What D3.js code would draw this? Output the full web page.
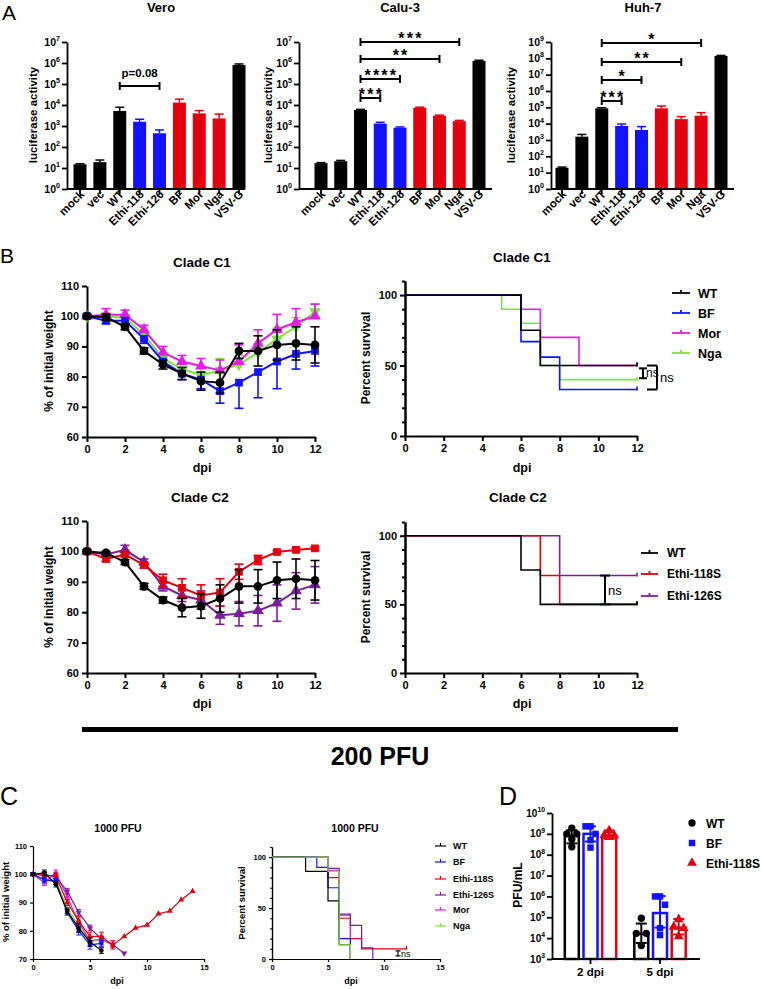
<!DOCTYPE html>
<html>
<head>
<meta charset="utf-8">
<title>Figure</title>
<script src="https://d3js.org/d3.v7.min.js"></script>
<style>
  body { margin: 0; background: #fff; }
  svg { display: block; font-family: "Liberation Sans", Arial, Helvetica, sans-serif; }
  text { fill: #000; }
</style>
</head>
<body>
<svg id="fig" width="762" height="989"></svg>
<script>
// ---------------- data ----------------
// panel A: pseudotype luciferase entry
var constructs = ["mock", "vec", "WT", "Ethi-118", "Ethi-126", "BF", "Mor", "Nga", "VSV-G"];
var veroMean = [15, 19, 5200, 1600, 450, 13000, 4000, 2300, 800000];
var veroTop  = [16, 24, 7800, 2100, 650, 19000, 5400, 3700, 900000];
var caluMean = [17, 21, 5800, 1300, 830, 7400, 3100, 1700, 1260000];
var caluTop  = [18, 23, 6200, 1500, 900, 7900, 3300, 1850, 1350000];
var huhMean  = [20, 1600, 87000, 7200, 4100, 87000, 19000, 31000, 1.4e8];
var huhTop   = [22, 2200, 95000, 9500, 6600, 120000, 27000, 47000, 1.5e8];
var veroSig = [["WT", "Ethi-126", "p=0.08"]];
var caluSig = [["WT", "Ethi-118", "***"], ["WT", "Ethi-126", "****"], ["WT", "Mor", "**"], ["WT", "Nga", "***"]];
var huhSig  = [["WT", "Ethi-118", "***"], ["WT", "Ethi-126", "*"], ["WT", "Mor", "**"], ["WT", "Nga", "*"]];

// panel B: 200 PFU weight (% of initial) and survival
var dpi12 = [0, 1, 2, 3, 4, 5, 6, 7, 8, 9, 10, 11, 12];
var c1WT    = [100, 99.7, 96.5, 88.5, 84, 81, 78.5, 78, 88.5, 88.5, 90.5, 91, 90.5];
var c1WTsd  = [0.5, 1, 1, 1, 1.5, 2, 3, 3.5, 2.5, 5, 5, 5.5, 6];
var c1BF    = [100, 98.5, 98.5, 92.5, 85, 81, 79, 75.2, 78, 81.5, 85, 87.5, 88.5];
var c1BFsd  = [0.5, 1, 1, 1.5, 1.5, 2, 3, 4, 8.5, 8.5, 9, 5, 5];
var c1Mor   = [100, 100.5, 100.5, 95.5, 88, 85, 83.5, 82, 85, 91, 95.6, 98, 100];
var c1Morsd = [0.5, 2, 1.5, 1.5, 2, 2, 2.5, 3.5, 5.5, 4.5, 5, 4.5, 4];
var c1Nga   = [100, 100, 99.5, 94, 86, 82.5, 80.5, 82, 84, 88, 92.5, 96.5, 101.5];
var c1Ngasd = [0.5, 1, 1, 1.5, 1.5, 2, 2.5, 4, 3, 3, 3.5, 3, 2.5];

var c2WT      = [100, 99.5, 96.5, 88.5, 84, 81.5, 82, 84.5, 88.5, 88.5, 90.5, 91, 90.5];
var c2WTsd    = [0.5, 0.5, 0.8, 1, 1, 3, 4, 4.5, 5.5, 5.5, 6, 6.5, 6.5];
var c2E118    = [100, 97.5, 99, 95.5, 90.5, 88, 85.5, 86.5, 93.3, 97.2, 99.8, 100.5, 101];
var c2E118sd  = [0.5, 0.8, 0.8, 1, 2, 3, 3.5, 4.5, 2.5, 1.5, 0.5, 0.5, 0.5];
var c2E126    = [100, 99, 100.5, 96.5, 88.5, 85.5, 84, 79, 79.5, 80.5, 83, 87, 89];
var c2E126sd  = [0.5, 0.5, 1.5, 1, 1.5, 2, 3, 3, 4, 5, 6, 6, 6];

// survival steps: [day, percent]
var s1WT  = [[0, 100], [6, 75], [7, 50], [12, 50]];
var s1BF  = [[0, 100], [6, 67], [7, 56], [8, 33], [12, 33]];
var s1Mor = [[0, 100], [6, 90], [7, 70], [9, 50], [12, 50]];
var s1Nga = [[0, 100], [5, 90], [6, 80], [7, 50], [8, 40], [12, 40]];
var s2WT   = [[0, 100], [6, 75], [7, 50], [12, 50]];
var s2E118 = [[0, 100], [7, 71], [8, 50], [12, 50]];
var s2E126 = [[0, 100], [8, 71], [12, 71]];

// panel C: 1000 PFU
var dpi14 = [0, 1, 2, 3, 4, 5, 6, 7, 8, 9, 10, 11, 12, 13, 14];
var cWT     = [100, 100.5, 96.5, 87, 81, 76, 73];
var cWTsd   = [0.5, 1, 1, 1, 1.5, 1.5, 1];
var cBF     = [100, 98, 97.5, 86.5, 80, 75, 75.5];
var cBFsd   = [0.5, 1, 1, 1, 1.5, 1.5, 1];
var cE118   = [100, 99.5, 99.5, 90, 83.5, 78, 78, 75, 78, 81, 82, 86, 87, 91, 94];
var cE118sd = [0.5, 1, 1, 1, 1.5, 1.5, 1.5, 1.5, 0, 0, 0, 0, 0, 0, 0];
var cE126   = [100, 100, 99, 94, 86.5, 81, 77, 75, 72];
var cE126sd = [0.5, 1, 1, 1, 1, 1, 1, 1, 0];
var cMor    = [100, 97, 100.5, 92, 83, 76.5, 77];
var cMorsd  = [0.5, 1, 1, 1, 1.5, 1.5, 1];
var cNga    = [100, 98, 98, 88, 82, 76, 77];
var cNgasd  = [0.5, 1, 1, 1, 1.5, 1.5, 1];
var scWT   = [[0, 100], [3, 86], [5, 57], [6, 14], [7, 0]];
var scBF   = [[0, 100], [4, 90], [5, 70], [6, 20], [7, 0]];
var scE118 = [[0, 100], [5, 80], [6, 40], [7, 20], [8, 10], [12, 10]];
var scE126 = [[0, 100], [5, 89], [6, 44], [7, 33], [8, 11], [9, 0]];
var scMor  = [[0, 100], [5, 87], [6, 43], [7, 0]];
var scNga  = [[0, 100], [5, 86], [6, 14], [7, 0]];

// panel D: lung titers
var timepoints = ["2 dpi", "5 dpi"];
var dGroups = ["WT", "BF", "Ethi-118S"];
var dWTmean = [8e8, 1.6e4], dWTlo = [3.5e8, 5.9e3], dWThi = [1.5e9, 5e4];
var dWTpts  = [[1.9e9, 1e9, 1e9, 5.5e8, 2.4e8], [9e4, 1.7e4, 1.7e4, 4.4e3]];
var dBFmean = [1e9, 1.6e5], dBFlo = [4.3e8, 3.2e4], dBFhi = [2.3e9, 1.04e6];
var dBFpts  = [[2.3e9, 2.3e9, 1e9, 5e8, 2.2e8], [1e6, 1e6, 4e5, 3e4, 1.4e4]];
var dEmean  = [8.3e8, 3.2e4], dElo = [6e8, 1.5e4], dEhi = [1.45e9, 8.3e4];
var dEpts   = [[1.45e9, 8.5e8, 8.5e8, 7e8], [8e4, 3.5e4, 3e4, 1.2e4]];

// ---------------- styling ----------------
var BLUE = "#1212ff", RED = "#e3000f", MAG = "#e31ee3", GRN = "#7fe33a", PUR = "#7b1e9c";
var colorOf = {"mock": "#000", "vec": "#000", "WT": "#000", "Ethi-118": BLUE, "Ethi-126": BLUE,
               "BF": RED, "Mor": RED, "Nga": RED, "VSV-G": "#000"};
var FONT = '"Liberation Sans", Arial, Helvetica, sans-serif';

var svg = d3.select("#fig");

function label(x, y, s, size, anchor, weight, rot) {
  var t = svg.append("text").attr("x", x).attr("y", y).text(s)
    .style("font-size", size + "px").style("font-weight", weight || "bold")
    .attr("text-anchor", anchor || "middle");
  if (rot) t.attr("transform", "rotate(" + rot + "," + x + "," + y + ")");
  return t;
}

function styleAxis(g, fs, sw) {
  g.attr("font-family", FONT).attr("font-size", fs).attr("font-weight", "bold");
  g.selectAll("path, line").attr("stroke", "#000").attr("stroke-width", sw);
  g.selectAll("text").attr("fill", "#000");
}

function logLabels(g, y, exps, xr, fs) {
  exps.forEach(function (e) {
    var t = g.append("text").attr("x", xr).attr("y", y(Math.pow(10, e)) + fs * 0.36)
      .attr("text-anchor", "end").style("font-size", fs + "px").style("font-weight", "bold");
    t.append("tspan").text("10");
    t.append("tspan").attr("dy", -fs * 0.45).style("font-size", (fs * 0.68) + "px").text(e);
  });
}

// ---------------- panel A ----------------
function barChart(cfg) {
  var base = 189;
  var x = d3.scalePoint().domain(constructs).range([cfg.first, cfg.last]);
  var y = d3.scaleLog().domain([1, Math.pow(10, cfg.maxExp)]).range([base, 42]);
  var g = svg.append("g");

  g.selectAll("line.err").data(cfg.top).enter().append("line")
    .attr("x1", function (d, i) { return x(constructs[i]); })
    .attr("x2", function (d, i) { return x(constructs[i]); })
    .attr("y1", function (d, i) { return y(cfg.mean[i]); })
    .attr("y2", function (d) { return y(d); })
    .attr("stroke", function (d, i) { return colorOf[constructs[i]]; }).attr("stroke-width", 1.5);
  g.selectAll("line.cap").data(cfg.top).enter().append("line")
    .attr("x1", function (d, i) { return x(constructs[i]) - 4.5; })
    .attr("x2", function (d, i) { return x(constructs[i]) + 4.5; })
    .attr("y1", function (d) { return y(d); }).attr("y2", function (d) { return y(d); })
    .attr("stroke", function (d, i) { return colorOf[constructs[i]]; }).attr("stroke-width", 1.5);
  g.selectAll("rect").data(cfg.mean).enter().append("rect")
    .attr("x", function (d, i) { return x(constructs[i]) - 6.5; })
    .attr("width", 13)
    .attr("y", function (d) { return y(d); })
    .attr("height", function (d) { return base - y(d); })
    .attr("fill", function (d, i) { return colorOf[constructs[i]]; });

  var exps = d3.range(0, cfg.maxExp + 1);
  var ya = g.append("g").attr("transform", "translate(" + cfg.x0 + ",0)")
    .call(d3.axisLeft(y).tickValues(exps.map(function (e) { return Math.pow(10, e); }))
      .tickSize(5).tickSizeOuter(0).tickFormat(""));
  styleAxis(ya, 11, 1.8);
  logLabels(g, y, exps, cfg.x0 - 7, 10.5);

  g.append("line").attr("x1", cfg.x0).attr("x2", cfg.x1).attr("y1", base).attr("y2", base)
    .attr("stroke", "#000").attr("stroke-width", 1.8);
  constructs.forEach(function (c) {
    g.append("line").attr("x1", x(c)).attr("x2", x(c)).attr("y1", base).attr("y2", base + 5)
      .attr("stroke", "#000").attr("stroke-width", 1.8);
    var px = x(c) + 5, py = 195;
    g.append("text").attr("x", px).attr("y", py).attr("text-anchor", "end")
      .attr("transform", "rotate(-45," + px + "," + py + ")")
      .style("font-size", "11.5px").style("font-weight", "bold").text(c);
  });

  label(cfg.tx, 12, cfg.title, 13);
  label(cfg.ylabX, 115, "luciferase activity", 11.5, "middle", "bold", -90);

  cfg.sig.forEach(function (s, i) {
    var x1 = x(s[0]), x2 = x(s[1]), yy = cfg.sigY[i];
    g.append("line").attr("x1", x1).attr("x2", x2).attr("y1", yy).attr("y2", yy)
      .attr("stroke", "#000").attr("stroke-width", 2);
    [x1, x2].forEach(function (xx) {
      g.append("line").attr("x1", xx).attr("x2", xx).attr("y1", yy - 4).attr("y2", yy + 4)
        .attr("stroke", "#000").attr("stroke-width", 2);
    });
    if (s[2].charAt(0) === "*") {
      label((x1 + x2) / 2 + 1.1, yy + 1.5, s[2], 16).style("letter-spacing", "2.2px");
    } else {
      label((x1 + x2) / 2, yy - 9, s[2], 11.5);
    }
  });
}

barChart({title: "Vero", tx: 161, mean: veroMean, top: veroTop, sig: veroSig, sigY: [86],
  x0: 67, x1: 245, first: 80, last: 239, maxExp: 7, ylabX: 37});
barChart({title: "Calu-3", tx: 400, mean: caluMean, top: caluTop, sig: caluSig, sigY: [98, 79, 59, 42],
  x0: 299, x1: 492, first: 321, last: 479, maxExp: 7, ylabX: 272});
barChart({title: "Huh-7", tx: 643, mean: huhMean, top: huhTop, sig: huhSig, sigY: [101, 80, 62, 43],
  x0: 551, x1: 734, first: 562, last: 721, maxExp: 9, ylabX: 515});

// ---------------- shared line chart helpers ----------------
function symbolPath(kind, size) {
  if (kind === "circle") return d3.symbol().type(d3.symbolCircle).size(size)();
  if (kind === "square") return d3.symbol().type(d3.symbolSquare).size(size)();
  if (kind === "diamond") return d3.symbol().type(d3.symbolDiamond).size(size)();
  return d3.symbol().type(d3.symbolTriangle).size(size)();
}

function weightChart(o) {
  var g = svg.append("g");
  var xa = g.append("g").attr("transform", "translate(0," + o.y.range()[0] + ")")
    .call(d3.axisBottom(o.x).tickValues(o.xTicks).tickSize(o.tk).tickSizeOuter(0));
  styleAxis(xa, o.fs, o.sw);
  var ya = g.append("g").attr("transform", "translate(" + o.x.range()[0] + ",0)")
    .call(d3.axisLeft(o.y).tickValues(o.yTicks).tickSize(o.tk).tickSizeOuter(0));
  styleAxis(ya, o.fs, o.sw);

  o.series.forEach(function (s) {
    var pts = s.vals.map(function (v, i) { return [o.days[i], v, s.sd[i]]; });
    g.append("path").datum(pts)
      .attr("d", d3.line().x(function (d) { return o.x(d[0]); }).y(function (d) { return o.y(d[1]); }))
      .attr("fill", "none").attr("stroke", s.color).attr("stroke-width", o.lw);
    pts.forEach(function (d) {
      if (!d[2]) return;
      var cx = o.x(d[0]);
      var top = s.dir === "down" ? d[1] : d[1] + d[2];
      var bot = s.dir === "up" ? d[1] : d[1] - d[2];
      g.append("line").attr("x1", cx).attr("x2", cx).attr("y1", o.y(top)).attr("y2", o.y(bot))
        .attr("stroke", s.color).attr("stroke-width", o.lw * 0.8);
      [top, bot].forEach(function (v) {
        if (v === d[1]) return;
        g.append("line").attr("x1", cx - o.cap).attr("x2", cx + o.cap).attr("y1", o.y(v)).attr("y2", o.y(v))
          .attr("stroke", s.color).attr("stroke-width", o.lw * 0.8);
      });
    });
    g.selectAll(null).data(pts).enter().append("path")
      .attr("d", symbolPath(s.sym, o.ms))
      .attr("transform", function (d) {
        return "translate(" + o.x(d[0]) + "," + o.y(d[1]) + ")" + (s.flip ? " rotate(180)" : "");
      })
      .attr("fill", s.color);
  });
}

function survChart(o) {
  var g = svg.append("g");
  var xa = g.append("g").attr("transform", "translate(0," + o.y.range()[0] + ")")
    .call(d3.axisBottom(o.x).tickValues(o.xTicks).tickSize(o.tk).tickSizeOuter(0));
  styleAxis(xa, o.fs, o.sw);
  var minor = g.append("g").attr("transform", "translate(" + o.x.range()[0] + ",0)")
    .call(d3.axisLeft(o.y).tickValues([10, 20, 30, 40, 60, 70, 80, 90, 110]).tickSize(o.tk * 0.6)
      .tickSizeOuter(0).tickFormat(""));
  styleAxis(minor, o.fs, o.sw);
  var ya = g.append("g").attr("transform", "translate(" + o.x.range()[0] + ",0)")
    .call(d3.axisLeft(o.y).tickValues([0, 50, 100]).tickSize(o.tk).tickSizeOuter(0));
  styleAxis(ya, o.fs, o.sw);

  var line = d3.line().x(function (d) { return o.x(d[0]); }).y(function (d) { return o.y(d[1]); })
    .curve(d3.curveStepAfter);
  o.curves.forEach(function (c) {
    g.append("path").datum(c.pts).attr("d", line).attr("fill", "none")
      .attr("stroke", c.color).attr("stroke-width", o.lw);
    var last = c.pts[c.pts.length - 1];
    if (last[1] > 0) {
      g.append("line").attr("x1", o.x(last[0])).attr("x2", o.x(last[0]))
        .attr("y1", o.y(last[1]) - 3).attr("y2", o.y(last[1]) + 1)
        .attr("stroke", c.color).attr("stroke-width", o.lw);
    }
  });
  // ns brackets: [x, from %, to %, cap half-width, stroke, font size, cap side]
  (o.ns || []).forEach(function (b) {
    var xx = b[0], y1 = o.y(b[1]), y2 = o.y(b[2]);
    g.append("line").attr("x1", xx).attr("x2", xx).attr("y1", y1).attr("y2", y2)
      .attr("stroke", "#000").attr("stroke-width", b[4]);
    [y1, y2].forEach(function (yy) {
      var xa1 = b[6] === "left" ? xx - 2 * b[3] : xx - b[3];
      var xa2 = b[6] === "left" ? xx : xx + b[3];
      g.append("line").attr("x1", xa1).attr("x2", xa2).attr("y1", yy).attr("y2", yy)
        .attr("stroke", "#000").attr("stroke-width", b[4]);
    });
    label(xx + 3, (y1 + y2) / 2 + b[5] * 0.35, "ns", b[5], "start", "normal");
  });
}

function survLegend(names, colors, lx1, lx2, tx, ys, fs, lw) {
  names.forEach(function (n, i) {
    svg.append("line").attr("x1", lx1).attr("x2", lx2).attr("y1", ys[i]).attr("y2", ys[i])
      .attr("stroke", colors[i]).attr("stroke-width", lw);
    svg.append("line").attr("x1", (lx1 + lx2) / 2).attr("x2", (lx1 + lx2) / 2)
      .attr("y1", ys[i] - 3).attr("y2", ys[i]).attr("stroke", colors[i]).attr("stroke-width", lw);
    label(tx, ys[i] + fs * 0.36, n, fs, "start");
  });
}

// ---------------- panel B ----------------
var xB1 = d3.scaleLinear().domain([0, 12]).range([87, 315]);
var xB2 = d3.scaleLinear().domain([0, 12]).range([405, 637]);

weightChart({x: xB1, y: d3.scaleLinear().domain([60, 110]).range([437, 286]), days: dpi12,
  xTicks: [0, 2, 4, 6, 8, 10, 12], yTicks: [60, 70, 80, 90, 100, 110], tk: 5, fs: 11, sw: 2,
  lw: 2, cap: 4.5, ms: 60,
  series: [
    {vals: c1Nga, sd: c1Ngasd, color: GRN, sym: "triangle", flip: true, dir: "up"},
    {vals: c1Mor, sd: c1Morsd, color: MAG, sym: "triangle", dir: "up"},
    {vals: c1BF, sd: c1BFsd, color: BLUE, sym: "square", dir: "down"},
    {vals: c1WT, sd: c1WTsd, color: "#000", sym: "circle", dir: "both"}
  ]});
label(202, 267, "Clade C1", 13.5);
label(202, 472, "dpi", 12.5);
label(53, 361, "% of initial weight", 12, "middle", "bold", -90);

survChart({x: xB2, y: d3.scaleLinear().domain([0, 110]).range([436, 281]),
  xTicks: [0, 2, 4, 6, 8, 10, 12], tk: 5, fs: 11, sw: 2, lw: 1.6,
  curves: [
    {pts: s1Nga, color: GRN}, {pts: s1Mor, color: MAG}, {pts: s1BF, color: BLUE}, {pts: s1WT, color: "#000"}
  ],
  ns: [[643, 48, 41, 4, 2, 12, "both"], [657, 50, 33, 5, 2, 13, "left"]]});
label(522, 262, "Clade C1", 13.5);
label(522, 472, "dpi", 12.5);
label(370, 358, "Percent survival", 12, "middle", "bold", -90);
survLegend(["WT", "BF", "Mor", "Nga"], ["#000", BLUE, MAG, GRN], 672, 690, 698, [293, 313, 333, 353], 12.5, 1.8);

weightChart({x: xB1, y: d3.scaleLinear().domain([60, 110]).range([673, 521]), days: dpi12,
  xTicks: [0, 2, 4, 6, 8, 10, 12], yTicks: [60, 70, 80, 90, 100, 110], tk: 5, fs: 11, sw: 2,
  lw: 2, cap: 4.5, ms: 60,
  series: [
    {vals: c2E126, sd: c2E126sd, color: PUR, sym: "triangle", dir: "both"},
    {vals: c2E118, sd: c2E118sd, color: RED, sym: "square", dir: "both"},
    {vals: c2WT, sd: c2WTsd, color: "#000", sym: "circle", dir: "both"}
  ]});
label(200, 502, "Clade C2", 13.5);
label(202, 708, "dpi", 12.5);
label(53, 597, "% of initial weight", 12, "middle", "bold", -90);

survChart({x: xB2, y: d3.scaleLinear().domain([0, 110]).range([673, 522]),
  xTicks: [0, 2, 4, 6, 8, 10, 12], tk: 5, fs: 11, sw: 2, lw: 1.6,
  curves: [{pts: s2E126, color: PUR}, {pts: s2E118, color: RED}, {pts: s2WT, color: "#000"}],
  ns: [[605, 71, 50, 5, 2, 13, "both"]]});
label(518, 502, "Clade C2", 13.5);
label(522, 708, "dpi", 12.5);
label(370, 597, "Percent survival", 12, "middle", "bold", -90);
survLegend(["WT", "Ethi-118S", "Ethi-126S"], ["#000", RED, PUR], 641, 658, 667, [553, 574, 596], 12, 1.8);

// divider
svg.append("line").attr("x1", 82).attr("x2", 678).attr("y1", 729.5).attr("y2", 729.5)
  .attr("stroke", "#000").attr("stroke-width", 5);
label(380, 765, "200 PFU", 25);

// ---------------- panel C ----------------
var xC1 = d3.scaleLinear().domain([0, 15]).range([33, 204]);
var xC2 = d3.scaleLinear().domain([0, 15]).range([272, 440]);
weightChart({x: xC1, y: d3.scaleLinear().domain([70, 110]).range([959, 846]), days: dpi14,
  xTicks: [0, 5, 10, 15], yTicks: [70, 80, 90, 100, 110], tk: 3, fs: 7.5, sw: 1.2,
  lw: 1.2, cap: 2.5, ms: 16,
  series: [
    {vals: cNga, sd: cNgasd, color: GRN, sym: "triangle", dir: "both"},
    {vals: cMor, sd: cMorsd, color: MAG, sym: "triangle", dir: "both"},
    {vals: cE126, sd: cE126sd, color: PUR, sym: "triangle", flip: true, dir: "both"},
    {vals: cE118, sd: cE118sd, color: RED, sym: "triangle", dir: "both"},
    {vals: cBF, sd: cBFsd, color: BLUE, sym: "square", dir: "both"},
    {vals: cWT, sd: cWTsd, color: "#000", sym: "circle", dir: "both"}
  ]});
label(118, 832, "1000 PFU", 10.5);
label(117, 984, "dpi", 9);
label(9, 902, "% of initial weight", 9.5, "middle", "bold", -90);

survChart({x: xC2, y: d3.scaleLinear().domain([0, 110]).range([959, 847]),
  xTicks: [0, 5, 10, 15], tk: 3, fs: 7.5, sw: 1.2, lw: 1.2,
  curves: [
    {pts: scE118, color: RED}, {pts: scMor, color: MAG}, {pts: scE126, color: PUR},
    {pts: scBF, color: BLUE}, {pts: scWT, color: "#000"}, {pts: scNga, color: GRN}
  ],
  ns: [[398, 8, 3, 2.5, 1.2, 9, "both"]]});
label(355, 832, "1000 PFU", 10.5);
label(351, 984, "dpi", 9);
label(245, 903, "Percent survival", 9.5, "middle", "bold", -90);
survLegend(["WT", "BF", "Ethi-118S", "Ethi-126S", "Mor", "Nga"],
  ["#000", BLUE, RED, PUR, MAG, GRN], 435, 446, 453, [846, 862, 879, 895, 910, 926], 9, 1.2);

// ---------------- panel D ----------------
(function () {
  var g = svg.append("g");
  var y = d3.scaleLog().domain([1e3, 1e10]).range([959, 813]);
  var x0 = d3.scalePoint().domain(timepoints).range([590.5, 660]);
  var x1 = d3.scalePoint().domain(dGroups).range([-18.7, 18.7]);
  var sets = [
    {name: "WT", mean: dWTmean, lo: dWTlo, hi: dWThi, pts: dWTpts, color: "#000", sym: "circle"},
    {name: "BF", mean: dBFmean, lo: dBFlo, hi: dBFhi, pts: dBFpts, color: BLUE, sym: "square"},
    {name: "Ethi-118S", mean: dEmean, lo: dElo, hi: dEhi, pts: dEpts, color: RED, sym: "triangle"}
  ];
  var jitter = [0, -5, 5, 0, 0];
  sets.forEach(function (s) {
    timepoints.forEach(function (t, i) {
      var cx = x0(t) + x1(s.name);
      g.append("rect").attr("x", cx - 7).attr("width", 14).attr("y", y(s.mean[i]))
        .attr("height", 959 - y(s.mean[i])).attr("fill", "none")
        .attr("stroke", s.color).attr("stroke-width", 2.5);
      g.append("line").attr("x1", cx).attr("x2", cx).attr("y1", y(s.lo[i])).attr("y2", y(s.hi[i]))
        .attr("stroke", s.color).attr("stroke-width", 2);
      [s.lo[i], s.hi[i]].forEach(function (v) {
        g.append("line").attr("x1", cx - 5.5).attr("x2", cx + 5.5).attr("y1", y(v)).attr("y2", y(v))
          .attr("stroke", s.color).attr("stroke-width", 2);
      });
      s.pts[i].forEach(function (v, k) {
        g.append("path").attr("d", symbolPath(s.sym, 42))
          .attr("transform", "translate(" + (cx + jitter[k]) + "," + y(v) + ")")
          .attr("fill", s.color);
      });
    });
  });
  var exps = [3, 4, 5, 6, 7, 8, 9, 10];
  var ya = g.append("g").attr("transform", "translate(552,0)")
    .call(d3.axisLeft(y).tickValues(exps.map(function (e) { return Math.pow(10, e); }))
      .tickSize(5).tickSizeOuter(0).tickFormat(""));
  styleAxis(ya, 10, 1.8);
  logLabels(g, y, exps, 545, 10);
  g.append("line").attr("x1", 552).attr("x2", 700).attr("y1", 959).attr("y2", 959)
    .attr("stroke", "#000").attr("stroke-width", 1.8);
  timepoints.forEach(function (t) {
    g.append("line").attr("x1", x0(t)).attr("x2", x0(t)).attr("y1", 959).attr("y2", 964)
      .attr("stroke", "#000").attr("stroke-width", 1.8);
    label(x0(t), 976, t, 11.5);
  });
  label(522, 885, "PFU/mL", 12, "middle", "bold", -90);
  sets.forEach(function (s, i) {
    var yy = 823 + i * 20;
    g.append("path").attr("d", symbolPath(s.sym, 42))
      .attr("transform", "translate(692," + yy + ")").attr("fill", s.color);
    label(706, yy + 4.5, s.name, 12, "start");
  });
})();

// panel letters
label(2, 20, "A", 21, "start", "normal");
label(0, 263, "B", 21, "start", "normal");
label(0, 805, "C", 25, "start", "normal");
label(499, 805, "D", 25, "start", "normal");
</script>
</body>
</html>
